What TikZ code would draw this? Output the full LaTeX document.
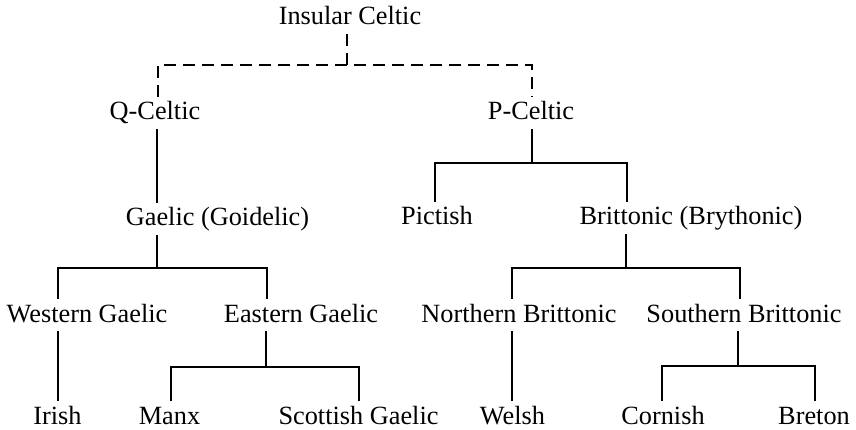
\documentclass[tikz,border=0pt]{standalone}
\usepackage{fontspec}
\setmainfont{Liberation Serif}
\begin{document}
\begin{tikzpicture}[x=1pt,y=-1pt,
  lang/.style={anchor=base,inner xsep=0pt,inner ysep=5pt,text height=18pt,text depth=4pt,font=\fontsize{26.3}{31}\selectfont},
  conn/.style={line width=1.6pt},
  dsh/.style={line width=1.6pt,dash pattern=on 12pt off 7pt}]
\useasboundingbox (0,0) rectangle (856,430);
% nodes
\node[lang] (ic) at (350,25) {Insular Celtic};
\node[lang] (qc) at (155,120) {Q-Celtic};
\node[lang] (pc) at (531,120) {P-Celtic};
\node[lang] (gae) at (217.5,226) {Gaelic (Goidelic)};
\node[lang] (pi) at (437,225) {Pictish};
\node[lang] (br) at (691,225) {Brittonic (Brythonic)};
\node[lang] (wg) at (87,322) {Western Gaelic};
\node[lang] (eg) at (301,322) {Eastern Gaelic};
\node[lang] (nb) at (519,322) {Northern Brittonic};
\node[lang] (sb) at (744,322) {Southern Brittonic};
\node[lang] (ir) at (57.5,424) {Irish};
\node[lang] (mx) at (169.5,424) {Manx};
\node[lang] (sg) at (358.5,424) {Scottish Gaelic};
\node[lang] (we) at (512.5,424) {Welsh};
\node[lang] (co) at (663,424) {Cornish};
\node[lang] (bt) at (814,424) {Breton};
% junctions
\coordinate (t) at (347,65); \coordinate (tL) at (158,65); \coordinate (tR) at (532,65);
\coordinate (g) at (157,268); \coordinate (gL) at (58,268); \coordinate (gR) at (267,268);
\coordinate (e) at (266,367); \coordinate (eL) at (171,367); \coordinate (eR) at (359,367);
\coordinate (p) at (532,163); \coordinate (pL) at (435,163); \coordinate (pR) at (627,163);
\coordinate (b) at (626,268); \coordinate (bL) at (512,268); \coordinate (bR) at (740,268);
\coordinate (s) at (738,366); \coordinate (sL) at (662,366); \coordinate (sR) at (815,366);
% dashed top
\draw[dsh] (ic.south -| t) -- (t);
\draw[dsh] (qc.north -| tL) -- (tL) -- (tR) -- (pc.north -| tR);
% Q-Celtic branch
\draw[conn] (qc.south -| g) -- (gae.north -| g);
\draw[conn] (gae.south -| g) -- (g);
\draw[conn] (wg.north -| gL) -- (gL) -- (gR) -- (eg.north -| gR);
\draw[conn] (wg.south -| gL) -- (ir.north -| gL);
\draw[conn] (eg.south -| e) -- (e);
\draw[conn] (mx.north -| eL) -- (eL) -- (eR) -- (sg.north -| eR);
% P-Celtic branch
\draw[conn] (pc.south -| p) -- (p);
\draw[conn] (pi.north -| pL) -- (pL) -- (pR) -- (br.north -| pR);
\draw[conn] (br.south -| b) -- (b);
\draw[conn] (nb.north -| bL) -- (bL) -- (bR) -- (sb.north -| bR);
\draw[conn] (nb.south -| bL) -- (we.north -| bL);
\draw[conn] (sb.south -| s) -- (s);
\draw[conn] (co.north -| sL) -- (sL) -- (sR) -- (bt.north -| sR);
\end{tikzpicture}
\end{document}
